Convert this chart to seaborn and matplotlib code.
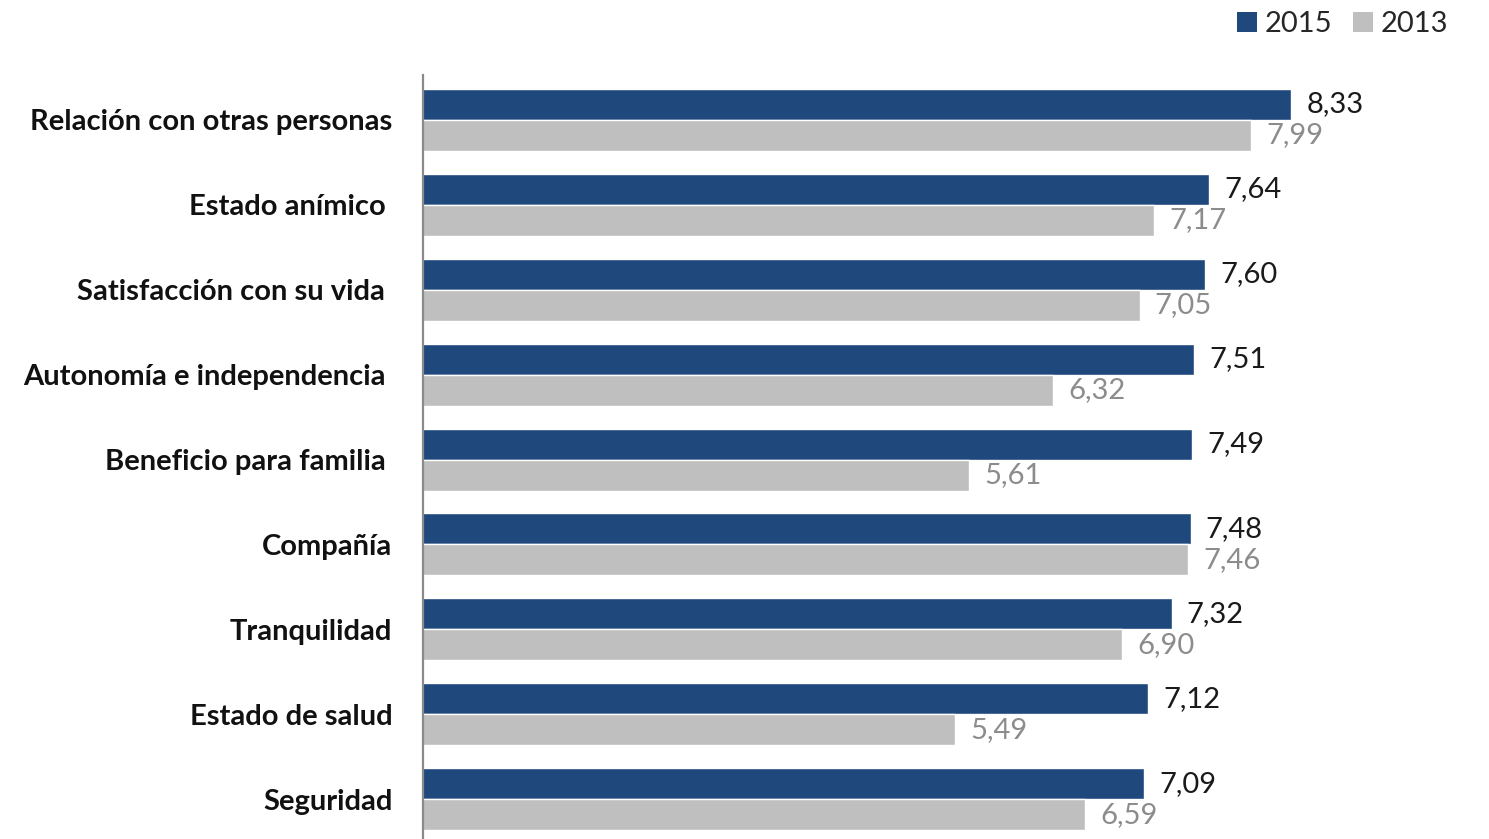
import matplotlib
matplotlib.use("Agg")
import matplotlib.pyplot as plt
import seaborn as sns
import pandas as pd
from matplotlib.patches import Patch

categories = [
    "Relación con otras personas",
    "Estado anímico ",
    "Satisfacción con su vida ",
    "Autonomía e independencia ",
    "Beneficio para familia ",
    "Compañía",
    "Tranquilidad",
    "Estado de salud",
    "Seguridad",
]
values_2015 = [8.33, 7.64, 7.60, 7.51, 7.49, 7.48, 7.32, 7.12, 7.09]
values_2013 = [7.99, 7.17, 7.05, 6.32, 5.61, 7.46, 6.90, 5.49, 6.59]
years = ["2015", "2013"]

colors = {"2015": "#1F497D", "2013": "#BFBFBF"}
label_colors = {"2015": "#1A1A1A", "2013": "#8C8C8C"}

df = pd.DataFrame({
    "categoria": categories * 2,
    "valor": values_2015 + values_2013,
    "año": ["2015"] * len(categories) + ["2013"] * len(categories),
})

sns.set_style("white")
plt.rcParams["font.family"] = ["Lato", "DejaVu Sans"]

fig = plt.figure(figsize=(14.89, 8.39), dpi=100)
ax = fig.add_axes([423 / 1489, 0.0, 1 - 423 / 1489, 1 - 75 / 839])

sns.barplot(data=df, y="categoria", x="valor", hue="año", hue_order=years,
            order=categories, palette=colors, orient="h", width=0.73,
            saturation=1, ax=ax, legend=False)

ax.set_xlim(1, 10)
ax.set_ylim(8.47, -0.53)
ax.set_xlabel("")
ax.set_ylabel("")
ax.set_xticks([])
ax.tick_params(axis="y", length=0, pad=22)
for lbl in ax.get_yticklabels():
    lbl.set_fontsize(21)
    lbl.set_fontweight("bold")
    lbl.set_color("#111111")

for side in ["top", "right", "bottom"]:
    ax.spines[side].set_visible(False)
ax.spines["left"].set_color("#8A8A8A")
ax.spines["left"].set_linewidth(1.6)

# value labels beside each bar
for container, year in zip(ax.containers, years):
    vals = values_2015 if year == "2015" else values_2013
    for bar, v in zip(container, vals):
        y = bar.get_y() + bar.get_height() / 2
        ax.annotate(f"{v:.2f}".replace(".", ","), xy=(v, y), xytext=(11, 0),
                    textcoords="offset points", ha="left", va="center",
                    fontsize=21, color=label_colors[year])

handles = [Patch(facecolor=colors[y], edgecolor="none", label=y) for y in years]
fig.legend(handles=handles, loc="upper right", bbox_to_anchor=(0.99, 1.018),
           ncol=2, frameon=False, fontsize=21, handlelength=0.7,
           handleheight=0.7, handletextpad=0.25, columnspacing=0.7)

fig.savefig("out.png", dpi=100)
